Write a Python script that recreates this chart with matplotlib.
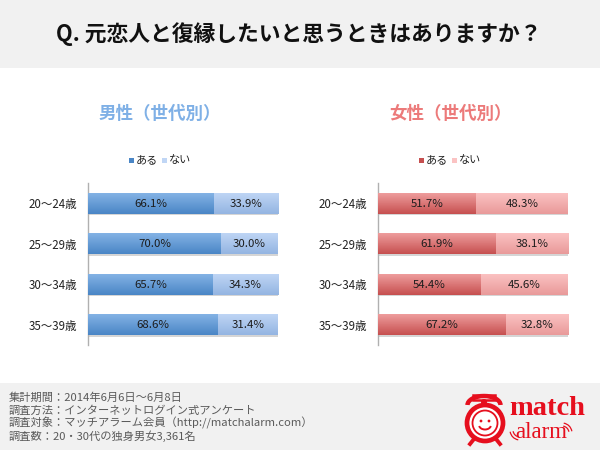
import matplotlib
matplotlib.use("Agg")
import numpy as np
import matplotlib.pyplot as plt
import matplotlib.patheffects as pe
from matplotlib.patches import Rectangle, Circle, Ellipse, Arc
from matplotlib.colors import LinearSegmentedColormap

plt.rcParams['font.family'] = ['Noto Sans CJK JP', 'DejaVu Sans']

ages = ["20〜24歳", "25〜29歳", "30〜34歳", "35〜39歳"]
legend_labels = ["ある", "ない"]
men_yes = [66.1, 70.0, 65.7, 68.6]
men_no = [33.9, 30.0, 34.3, 31.4]
women_yes = [51.7, 61.9, 54.4, 67.2]
women_no = [48.3, 38.1, 45.6, 32.8]

question = "Q. 元恋人と復縁したいと思うときはありますか？"
notes = ["集計期間：2014年6月6日〜6月8日",
         "調査方法：インターネットログイン式アンケート",
         "調査対象：マッチアラーム会員（http://matchalarm.com）",
         "調査数：20・30代の独身男女3,361名"]

W, H = 600, 450
fig = plt.figure(figsize=(6, 4.5), dpi=100, facecolor="white")

# background in pixel coords
bg = fig.add_axes([0, 0, 1, 1])
bg.set_xlim(0, W)
bg.set_ylim(H, 0)
bg.axis("off")
bg.add_patch(Rectangle((0, 0), W, 68, color="#f1f1f1", lw=0))
bg.add_patch(Rectangle((0, 383), W, 67, color="#f1f1f1", lw=0))
bg.text(298.5, 34, question, ha="center", va="center", fontsize=15.7, color="#111111", fontweight="bold")
for i, line in enumerate(notes):
    bg.text(9, 398 + i * 12.7, line, ha="left", va="center", fontsize=8.1, color="#5a5a5a")


def grad_bar(ax, bar, top, bottom):
    # gradient laid over a bar, clipped to it
    cmap = LinearSegmentedColormap.from_list("g", [top, bottom])
    x0, y0 = bar.get_x(), bar.get_y()
    w, h = bar.get_width(), bar.get_height()
    im = ax.imshow(np.linspace(0, 1, 32).reshape(-1, 1), cmap=cmap, aspect="auto",
                   extent=(x0, x0 + w, y0 + h, y0), zorder=3)
    im.set_clip_path(bar)


def panel(px, title, title_col, yes, no, cols, legend_x):
    ax = fig.add_axes([px / W, 1 - 345 / H, 190 / W, 162 / H])
    y = np.arange(len(ages))
    shadow = [pe.SimplePatchShadow(offset=(0.5, -1.0), shadow_rgbFace="#888888", alpha=0.35), pe.Normal()]
    bars1 = ax.barh(y, yes, height=0.52, color=cols[1], zorder=2, path_effects=shadow)
    bars2 = ax.barh(y, no, left=yes, height=0.52, color=cols[3], zorder=2, path_effects=shadow)
    for b in bars1:
        grad_bar(ax, b, cols[0], cols[1])
    for b in bars2:
        grad_bar(ax, b, cols[2], cols[3])
    for i in y:
        ax.text(yes[i] / 2, i + 0.01, f"{yes[i]:.1f}%", ha="center", va="center", fontsize=8.2, color="#1c1c1c", zorder=5)
        ax.text(yes[i] + no[i] / 2, i + 0.01, f"{no[i]:.1f}%", ha="center", va="center", fontsize=8.2, color="#1c1c1c", zorder=5)
    ax.set_xlim(0, 100)
    ax.set_ylim(len(ages) - 0.5, -0.5)
    ax.set_yticks(y)
    ax.set_yticklabels(ages, fontsize=8.3, color="#222222")
    ax.tick_params(axis="y", length=0, pad=8)
    ax.set_xticks([])
    for s in ["top", "right", "bottom"]:
        ax.spines[s].set_visible(False)
    ax.spines["left"].set_color("#b0b0b0")
    ax.spines["left"].set_linewidth(1)
    ax.patch.set_alpha(0)
    # title and legend
    bg.text(px + 72, 114, title, ha="center", va="center", fontsize=12.6, color=title_col, fontweight="bold")
    bg.add_patch(Rectangle((legend_x, 158), 5, 5, color=cols[1], lw=0))
    bg.text(legend_x + 7, 160.5, legend_labels[0], ha="left", va="center", fontsize=8, color="#222222")
    bg.add_patch(Rectangle((legend_x + 33, 158), 5, 5, color=cols[2], lw=0))
    bg.text(legend_x + 40, 160.5, legend_labels[1], ha="left", va="center", fontsize=8, color="#222222")


panel(88, "男性（世代別）", "#7fb0e6", men_yes, men_no,
      ["#86b4e6", "#4a86c6", "#c0d6f5", "#94b5e2"], 129)
panel(378, "女性（世代別）", "#ec7a7a", women_yes, women_no,
      ["#f0a0a0", "#c65050", "#fbc3c3", "#e99a9a"], 419)

# logo
red = "#e60f1e"
bg.add_patch(Ellipse((485, 423), 36, 36, fc="white", ec=red, lw=3.4))
bg.add_patch(Ellipse((485, 423), 25, 25, fc="white", ec=red, lw=1.3))
bg.add_patch(Arc((484, 405), 33, 18, theta1=180, theta2=360, color=red, lw=3.2))
bg.add_patch(Rectangle((473, 395), 22, 5, fc="none", ec=red, lw=1.8))
bg.add_patch(Circle((484, 402), 3, fc=red, lw=0))
bg.plot([474, 470], [439, 444], color=red, lw=2.8)
bg.plot([496, 500], [439, 444], color=red, lw=2.8)
bg.add_patch(Circle((481, 421), 1.4, fc=red, lw=0))
bg.add_patch(Circle((489, 421), 1.4, fc=red, lw=0))
bg.add_patch(Arc((485, 425), 12, 9, theta1=10, theta2=170, color=red, lw=1.4))
bg.text(509, 408.5, "match", ha="left", va="center", fontsize=20.5, fontweight="bold", color=red, family="Liberation Serif")
bg.text(515, 433, "alarm", ha="left", va="center", fontsize=16.5, color=red, family="Liberation Serif")
for r in [7, 10]:
    bg.add_patch(Arc((520, 430), r * 2, r * 2, theta1=100, theta2=170, color=red, lw=0.9))
    bg.add_patch(Arc((562, 433), r * 2, r * 2, theta1=280, theta2=350, color=red, lw=0.9))

fig.savefig("out.png", dpi=100, facecolor="white")
